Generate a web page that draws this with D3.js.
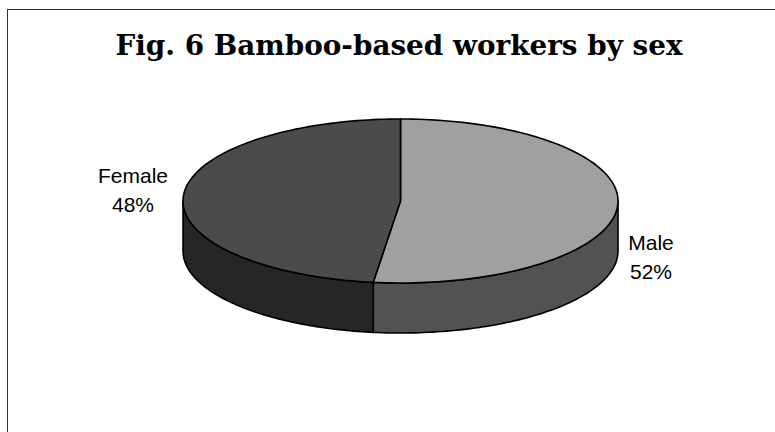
<!DOCTYPE html>
<html>
<head>
<meta charset="utf-8">
<script src="https://cdn.jsdelivr.net/npm/d3@7"></script>
<style>
  html, body { margin: 0; padding: 0; background: #fff; }
  svg { display: block; }
</style>
</head>
<body>
<svg id="chart" width="775" height="432"></svg>
<script>
const title = "Fig. 6 Bamboo-based workers by sex";
const categories = ["Male", "Female"];
const values = [52, 48];
const topColors = ["#a0a0a0", "#4b4b4b"];
const sideColors = ["#525252", "#262626"];

const svg = d3.select("#chart");

// chart border
svg.append("rect")
  .attr("x", 7.5).attr("y", 9.5)
  .attr("width", 820).attr("height", 500)
  .attr("fill", "#fff").attr("stroke", "#333").attr("stroke-width", 1);

// title
svg.append("text")
  .attr("x", 399).attr("y", 54.5)
  .attr("text-anchor", "middle")
  .attr("font-family", "DejaVu Serif, serif")
  .attr("font-weight", "bold")
  .attr("font-size", 27)
  .attr("textLength", 567)
  .attr("lengthAdjust", "spacingAndGlyphs")
  .text(title);

// 3D pie geometry
const cx = 400.5, cy = 201, rx = 217.5, ry = 82, depth = 50;
const data = categories.map((c, i) => ({ name: c, value: values[i], top: topColors[i], side: sideColors[i] }));
const pie = d3.pie().value(d => d.value).sort(null).startAngle(0).endAngle(2 * Math.PI);
const arcs = pie(data);
const total = d3.sum(values);

const px = a => cx + rx * Math.sin(a);
const py = (a, dy = 0) => cy - ry * Math.cos(a) + dy;

function sample(a0, a1, n) {
  const pts = [];
  for (let i = 0; i <= n; i++) pts.push(a0 + (a1 - a0) * i / n);
  return pts;
}

const line = d3.line();

// side walls (front half: angles between PI/2 and 3PI/2)
const g = svg.append("g");
arcs.forEach(a => {
  const s0 = Math.max(a.startAngle, Math.PI / 2);
  const s1 = Math.min(a.endAngle, 3 * Math.PI / 2);
  if (s1 <= s0) return;
  const angs = sample(s0, s1, 80);
  const pts = angs.map(t => [px(t), py(t)])
    .concat(angs.slice().reverse().map(t => [px(t), py(t, depth)]));
  g.append("path")
    .attr("d", line(pts) + "Z")
    .attr("fill", a.data.side)
    .attr("stroke", "#000").attr("stroke-width", 1.6)
    .attr("stroke-linejoin", "round");
});

// top faces
arcs.forEach(a => {
  const angs = sample(a.startAngle, a.endAngle, 120);
  const pts = [[cx, cy]].concat(angs.map(t => [px(t), py(t)]));
  g.append("path")
    .attr("d", line(pts) + "Z")
    .attr("fill", a.data.top)
    .attr("stroke", "#000").attr("stroke-width", 1.6)
    .attr("stroke-linejoin", "round");
});

// labels
const labelPos = { "Male": [651, 250], "Female": [133, 183] };
arcs.forEach(a => {
  const [lx, ly] = labelPos[a.data.name];
  const t = svg.append("text")
    .attr("x", lx).attr("y", ly)
    .attr("text-anchor", "middle")
    .attr("font-family", "Liberation Sans, Arial, sans-serif")
    .attr("font-size", 21)
    .attr("fill", "#000");
  t.append("tspan").attr("x", lx).text(a.data.name);
  t.append("tspan").attr("x", lx).attr("dy", 29)
    .text(Math.round(a.data.value / total * 100) + "%");
});
</script>
</body>
</html>
